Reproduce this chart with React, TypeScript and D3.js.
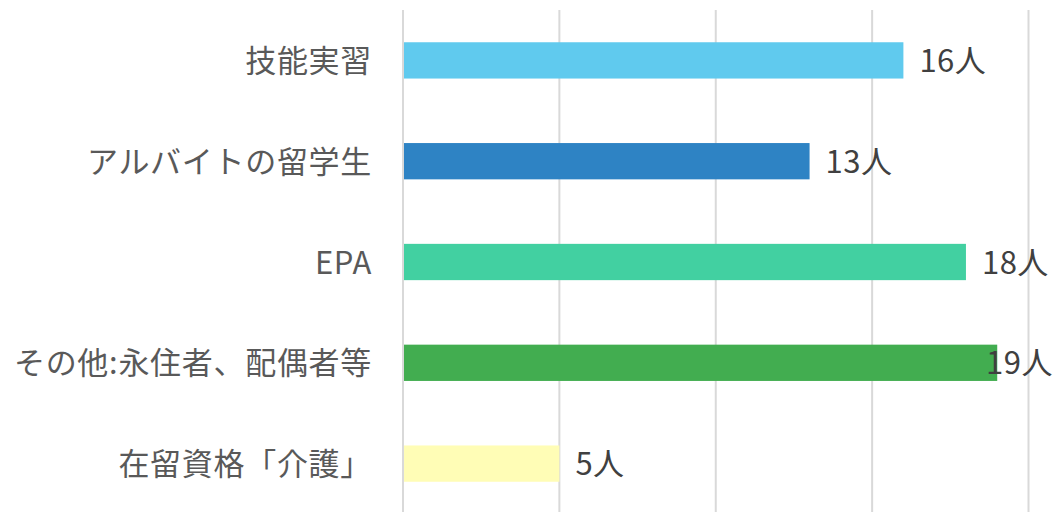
import React from "react";
import * as d3 from "d3";

const categories = ["技能実習", "アルバイトの留学生", "EPA", "その他:永住者、配偶者等", "在留資格「介護」"];
const values = [16, 13, 18, 19, 5];
const colors = ["#60CAEE", "#2E83C4", "#42D0A1", "#42AD50", "#FFFDB6"];
const ticks = [0, 5, 10, 15, 20];
const unit = "人";

const W = 1053;
const H = 512;

export default function App() {
  const x = d3.scaleLinear().domain([0, 20]).range([403, 1028.5]);
  const y = d3.scaleBand().domain(categories).range([10, 514]).paddingInner(0.64).paddingOuter(0.32);
  const font = "'Noto Sans CJK JP', 'Noto Sans', sans-serif";
  return (
    <svg width={W} height={H} style={{ position: "absolute", left: 0, top: 0 }}>
      <rect width={W} height={H} fill="#fff" />
      {ticks.map((t) => (
        <line key={t} x1={x(t)} x2={x(t)} y1={10} y2={H} stroke="#D9D9D9" strokeWidth={2} />
      ))}
      {categories.map((c, i) => {
        const yc = (y(c) as number) + y.bandwidth() / 2 - 2;
        const end = x(values[i]);
        const lx = Math.min(end + 16, 986);
        return (
          <g key={c}>
            <rect x={x(0) + 1} y={y(c)} width={end - x(0) - 1} height={y.bandwidth()} fill={colors[i]} />
            <text x={372} y={yc} textAnchor="end" dominantBaseline="central" fontFamily={font} fontSize={31} letterSpacing={0.7} fill="#595959">{c}</text>
            <text x={lx} y={yc} dominantBaseline="central" fontFamily={font} fontSize={31} letterSpacing={0.5} fill="#404040">{values[i]}{unit}</text>
          </g>
        );
      })}
    </svg>
  );
}
